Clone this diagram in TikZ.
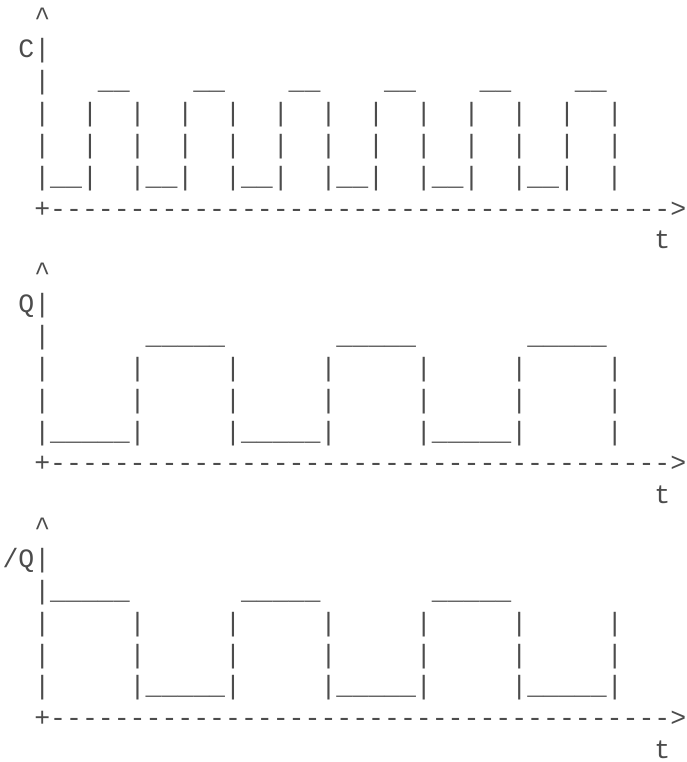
\documentclass[tikz,border=0pt]{standalone}
\usepackage{fontspec}
\setmonofont{Liberation Mono}
\tikzset{ascii/.style={anchor=base west, inner sep=0pt, outer sep=0pt,
  font=\ttfamily\fontsize{26.5pt}{32pt}\selectfont, text=black!70}}
\begin{document}
\begin{tikzpicture}[x=1pt,y=-1pt]
\useasboundingbox (0,0) rectangle (686,762);
% ---- C ----
\node[ascii] (l0) at (2.5,26) {~~\textasciicircum};
\node[ascii] (l1) at (2.5,57.85) {~C|};
\node[ascii] (l2) at (2.5,89.7) {~~|~~~\_\_~~~~\_\_~~~~\_\_~~~~\_\_~~~~\_\_~~~~\_\_};
\node[ascii] (l3) at (2.5,121.55) {~~|~~|~~|~~|~~|~~|~~|~~|~~|~~|~~|~~|~~|};
\node[ascii] (l4) at (2.5,153.4) {~~|~~|~~|~~|~~|~~|~~|~~|~~|~~|~~|~~|~~|};
\node[ascii] (l5) at (2.5,185.25) {~~|\_\_|~~|\_\_|~~|\_\_|~~|\_\_|~~|\_\_|~~|\_\_|~~|};
\node[ascii] (l6) at (2.5,217.1) {~~+---------------------------------------{}>};
\node[ascii] (l7) at (654.4,248.95) {t};
% ---- Q ----
\node[ascii] (l8) at (2.5,280.8) {~~\textasciicircum};
\node[ascii] (l9) at (2.5,312.65) {~Q|};
\node[ascii] (l10) at (2.5,344.5) {~~|~~~~~~\_\_\_\_\_~~~~~~~\_\_\_\_\_~~~~~~~\_\_\_\_\_};
\node[ascii] (l11) at (2.5,376.35) {~~|~~~~~|~~~~~|~~~~~|~~~~~|~~~~~|~~~~~|};
\node[ascii] (l12) at (2.5,408.2) {~~|~~~~~|~~~~~|~~~~~|~~~~~|~~~~~|~~~~~|};
\node[ascii] (l13) at (2.5,440.05) {~~|\_\_\_\_\_|~~~~~|\_\_\_\_\_|~~~~~|\_\_\_\_\_|~~~~~|};
\node[ascii] (l14) at (2.5,471.9) {~~+---------------------------------------{}>};
\node[ascii] (l15) at (654.4,503.75) {t};
% ---- /Q ----
\node[ascii] (l16) at (2.5,535.6) {~~\textasciicircum};
\node[ascii] (l17) at (2.5,567.45) {/Q|};
\node[ascii] (l18) at (2.5,599.3) {~~|\_\_\_\_\_~~~~~~~\_\_\_\_\_~~~~~~~\_\_\_\_\_};
\node[ascii] (l19) at (2.5,631.15) {~~|~~~~~|~~~~~|~~~~~|~~~~~|~~~~~|~~~~~|};
\node[ascii] (l20) at (2.5,663) {~~|~~~~~|~~~~~|~~~~~|~~~~~|~~~~~|~~~~~|};
\node[ascii] (l21) at (2.5,694.85) {~~|~~~~~|\_\_\_\_\_|~~~~~|\_\_\_\_\_|~~~~~|\_\_\_\_\_|};
\node[ascii] (l22) at (2.5,726.7) {~~+---------------------------------------{}>};
\node[ascii] (l23) at (654.4,758.55) {t};
\end{tikzpicture}
\end{document}
